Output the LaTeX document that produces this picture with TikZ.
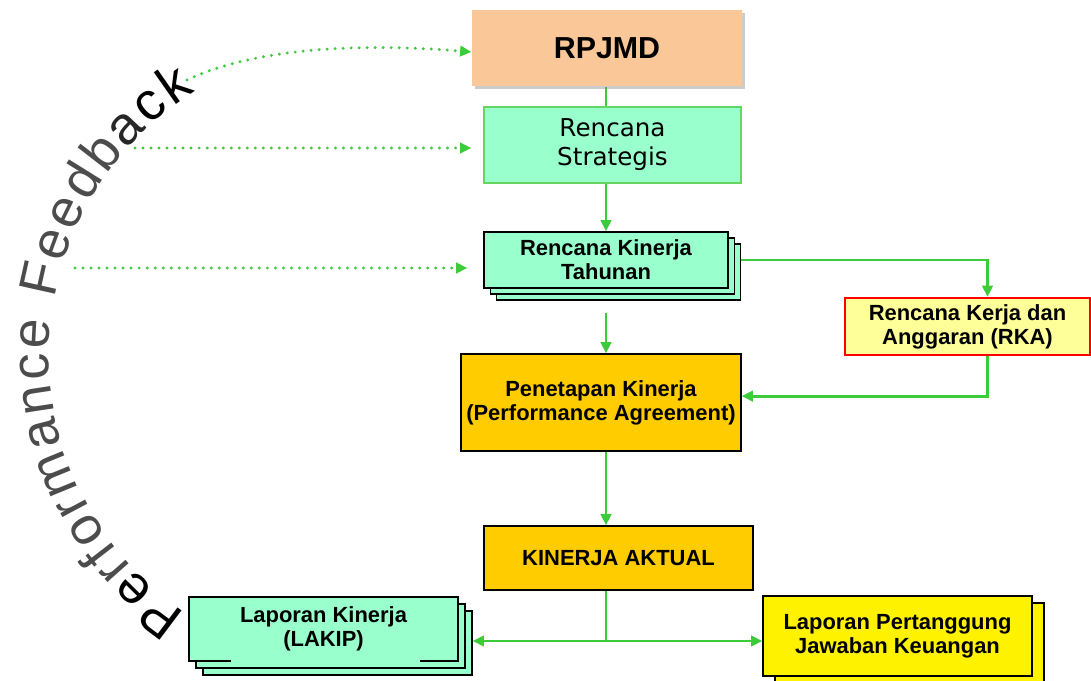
\documentclass[tikz,border=0pt]{standalone}
\usepackage{fontspec}
\setmainfont{Liberation Sans}
\newfontfamily\vfont{DejaVu Sans}
\usepackage{tikz}
\usetikzlibrary{arrows.meta,shadows,backgrounds,decorations.text}
\definecolor{peach}{HTML}{FAC898}
\definecolor{mint}{HTML}{99FFCC}
\definecolor{gold}{HTML}{FFCC00}
\definecolor{paleyellow}{HTML}{FFFF99}
\definecolor{flowgreen}{HTML}{3BCB3B}
\newcommand\FB{\fontsize{38}{38}\selectfont}

\begin{document}
\begin{tikzpicture}[x=0.025cm, y=0.025cm,
  box/.style={draw=black, line width=0.9pt, align=center, inner sep=0pt,
    font=\bfseries\fontsize{15.6}{17}\selectfont},
  flow/.style={draw=flowgreen, line width=2.1pt, -{Triangle[length=0.28cm,width=0.26cm]}},
  fb/.style={draw=flowgreen, line width=2.3pt, dash pattern=on 0pt off 5.7pt,
    line cap=round, -{Triangle[length=0.28cm,width=0.26cm]}}]

  \useasboundingbox (0,0) rectangle (1091,-681);

  \coordinate (axis) at (606,0);
  \coordinate (split) at (606,-641);
  \coordinate (fb1) at (187,-80);
  \coordinate (fb2) at (135,-148);
  \coordinate (fb3) at (75,-268);

  \node[box, draw=none, fill=peach, minimum width=6.75cm, minimum height=1.9cm,
    drop shadow={shadow xshift=0.07cm, shadow yshift=-0.07cm, opacity=0.4},
    font=\bfseries\fontsize{21.6}{24}\selectfont] (rpjmd) at (607,-48) {RPJMD};
  \node[box, fill=mint, draw=flowgreen!80, line width=1pt, minimum width=6.425cm,
    minimum height=1.9cm, font=\vfont\fontsize{17.5}{20.5}\selectfont]
    (rs) at (612.5,-145) {Rencana\\Strategis};
  \node[box, fill=mint, minimum width=6.1cm, minimum height=1.4cm,
    double copy shadow={shadow xshift=0.16cm, shadow yshift=-0.15cm}]
    (rkt) at (606,-260) {Rencana Kinerja\\Tahunan};
  \node[box, fill=paleyellow, draw=red, line width=1.6pt, minimum width=6.125cm,
    minimum height=1.425cm] (rka) at (967.5,-326.5) {Rencana Kerja dan\\Anggaran (RKA)};
  \node[box, fill=gold, minimum width=7cm, minimum height=2.425cm]
    (pk) at (601,-402.5) {Penetapan Kinerja\\(Performance Agreement)};
  \node[box, fill=gold, minimum width=6.725cm, minimum height=1.6cm]
    (ka) at (618.5,-558) {KINERJA AKTUAL};
  \node[box, fill=mint, minimum width=6.725cm, minimum height=1.6cm,
    double copy shadow={shadow xshift=0.175cm, shadow yshift=-0.175cm}]
    (lakip) at (323.5,-629) {Laporan Kinerja\\(LAKIP)};
  \fill[mint] (231,-658) rectangle (420,-663); % gap in lower edge
  \node[box, fill=yellow, minimum width=6.725cm, minimum height=2cm,
    copy shadow={shadow xshift=0.3cm, shadow yshift=-0.175cm}]
    (lpj) at (897.5,-636) {Laporan Pertanggung\\Jawaban Keuangan};

  \begin{scope}[on background layer]
    \draw[flow, -] (rpjmd.south -| axis) -- (rs.north -| axis); %% RPJMD-RS
    \draw[flow] (rs.south -| axis) -- (rkt.north); %% RS->RKT
    \draw[flow] (rkt.east) -| ([xshift=0.5cm]rka.north); %% RKT->RKA
    \draw[flow] ([yshift=-0.6cm]rkt.south) -- (pk.north -| axis); %% RKT->PK
    \draw[flow] ([xshift=0.5cm]rka.south) |- ([yshift=0.16cm]pk.east); %% RKA->PK
    \draw[flow] (pk.south -| axis) -- (ka.north -| axis); %% PK->KA
    \draw[flow, -] (ka.south -| axis) -- (split);
    \coordinate (lakipin) at ([xshift=0.35cm]lakip.east);
    \draw[flow] (split) -- (lakipin |- split); %% KA->LAKIP
    \draw[flow] (split) -- (lpj.west |- split); %% KA->LPJ

    % feedback
    \draw[fb] (fb1) .. controls (250,-50) and (350,-42) .. ([yshift=-0.1cm]rpjmd.west);
    \draw[fb, shorten >=0.3cm] (fb2) -- (rs.west |- fb2);
    \draw[fb, shorten >=0.4cm] (fb3) -- (rkt.west |- fb3);
  \end{scope}

  \path[decorate, decoration={text along path, text align={fit to path},
    text={|\FB\color{black}|Pe|\FB\color{black!70}|rformance Feedb|\FB\color{black!85}|a|\FB\color{black}|ck}}]
    plot[domain=0:114, samples=60] ({360+311*cos(236-\x)}, {-355+311*sin(236-\x)});
\end{tikzpicture}
\end{document}
